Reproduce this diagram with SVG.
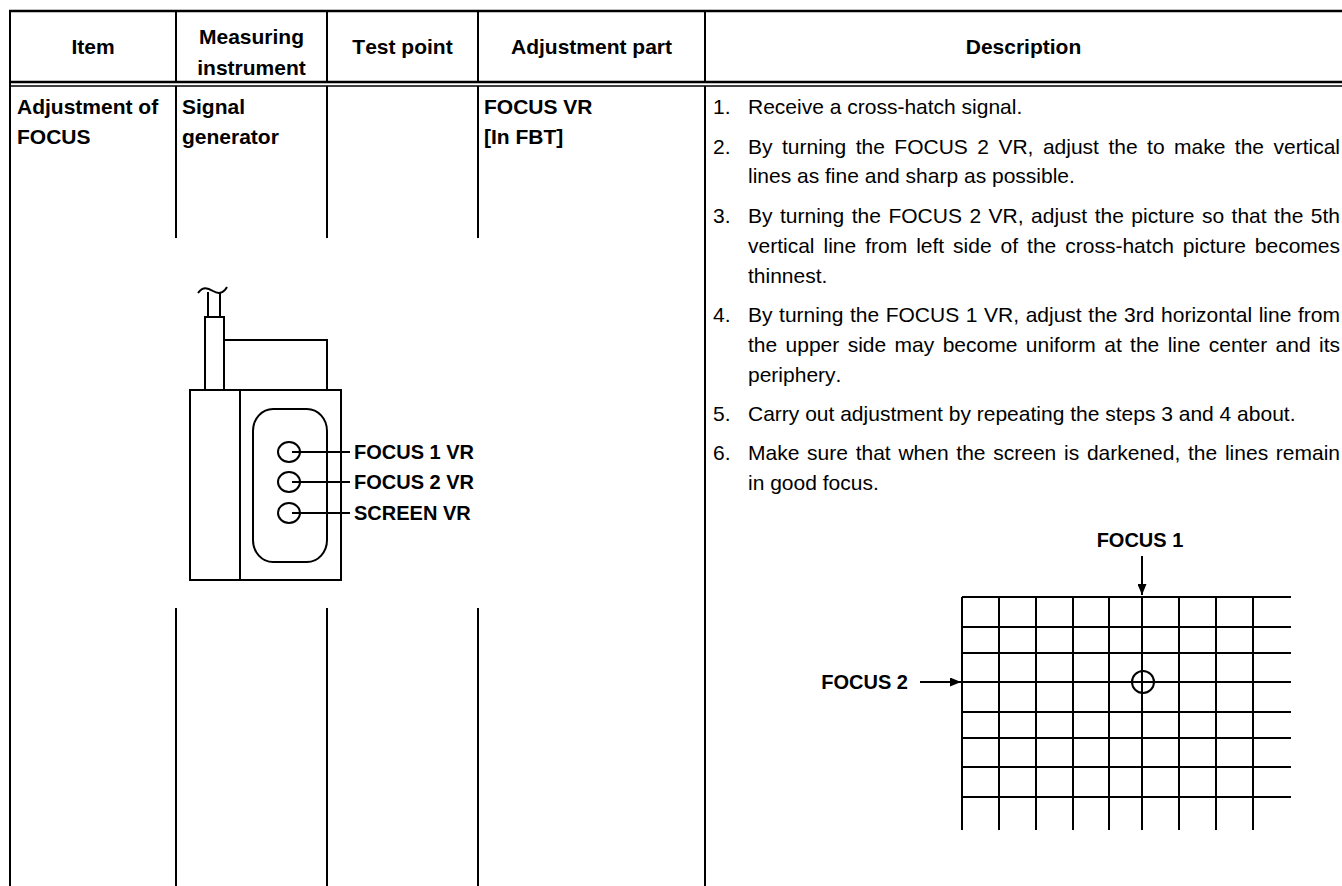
<svg xmlns="http://www.w3.org/2000/svg" width="1342" height="886" viewBox="0 0 1342 886">
<style>
.ln{stroke:#000;stroke-width:2;fill:none}
.h{font-family:"Liberation Sans",Arial,sans-serif;font-weight:bold;font-size:21px;fill:#000;font-kerning:none}
.hc{text-anchor:middle}
.t{font-family:"Liberation Sans",Arial,sans-serif;font-size:21px;fill:#000;font-kerning:none}
.lb{font-family:"Liberation Sans",Arial,sans-serif;font-weight:bold;font-size:20px;fill:#000;font-kerning:none}
</style>
<defs>
<marker id="ah" viewBox="0 0 11 9" refX="11" refY="4.5" markerWidth="11" markerHeight="9" markerUnits="userSpaceOnUse" orient="auto">
<path d="M0,0 L11,4.5 L0,9 z" fill="#000"/>
</marker>
</defs>
<rect width="1342" height="886" fill="#fff"/>

<g id="table" class="ln">
<line x1="9" y1="11" x2="1342" y2="11" stroke-width="2.5"/>
<line x1="10" y1="10" x2="10" y2="886"/>
<line x1="176" y1="11" x2="176" y2="82"/>
<line x1="327" y1="11" x2="327" y2="82"/>
<line x1="478" y1="11" x2="478" y2="82"/>
<line x1="705" y1="11" x2="705" y2="82"/>
<line x1="9" y1="82" x2="1342" y2="82" stroke-width="2.5"/>
<line x1="9" y1="86" x2="1342" y2="86" stroke-width="1.5"/>
<line x1="176" y1="86" x2="176" y2="238"/>
<line x1="327" y1="86" x2="327" y2="238"/>
<line x1="478" y1="86" x2="478" y2="238"/>
<line x1="176" y1="608" x2="176" y2="886"/>
<line x1="327" y1="608" x2="327" y2="886"/>
<line x1="478" y1="608" x2="478" y2="886"/>
<line x1="705" y1="86" x2="705" y2="886"/>
</g>

<g id="header">
<text class="h hc" x="93" y="54">Item</text>
<text class="h hc" x="251.5" y="44">Measuring</text>
<text class="h hc" x="251.5" y="75">instrument</text>
<text class="h hc" x="402.5" y="54">Test point</text>
<text class="h hc" x="591.5" y="54">Adjustment part</text>
<text class="h hc" x="1023.5" y="54">Description</text>
</g>

<g id="item">
<text class="h" x="17" y="114">Adjustment of</text>
<text class="h" x="17" y="144">FOCUS</text>
</g>
<g id="instrument">
<text class="h" x="182" y="114">Signal</text>
<text class="h" x="182" y="144">generator</text>
</g>
<g id="adjustment-part">
<text class="h" x="484" y="114">FOCUS VR</text>
<text class="h" x="484" y="144">[In FBT]</text>
</g>

<g id="description">
<text class="t" x="713" y="113.5">1.</text>
<text class="t" x="748" y="113.5">Receive a cross-hatch signal.</text>
<text class="t" x="713" y="153.5">2.</text>
<text class="t" x="748" y="153.5" word-spacing="3.63">By turning the FOCUS 2 VR, adjust the to make the vertical</text>
<text class="t" x="748" y="183">lines as fine and sharp as possible.</text>
<text class="t" x="713" y="222.5">3.</text>
<text class="t" x="748" y="222.5" word-spacing="1.67">By turning the FOCUS 2 VR, adjust the picture so that the 5th</text>
<text class="t" x="748" y="253" word-spacing="3.14">vertical line from left side of the cross-hatch picture becomes</text>
<text class="t" x="748" y="283">thinnest.</text>
<text class="t" x="713" y="322">4.</text>
<text class="t" x="748" y="322" word-spacing="0.76">By turning the FOCUS 1 VR, adjust the 3rd horizontal line from</text>
<text class="t" x="748" y="352" word-spacing="2.56">the upper side may become uniform at the line center and its</text>
<text class="t" x="748" y="382">periphery.</text>
<text class="t" x="713" y="421">5.</text>
<text class="t" x="748" y="421">Carry out adjustment by repeating the steps 3 and 4 about.</text>
<text class="t" x="713" y="460">6.</text>
<text class="t" x="748" y="460" word-spacing="1.89">Make sure that when the screen is darkened, the lines remain</text>
<text class="t" x="748" y="490">in good focus.</text>
</g>

<g id="fbt" class="ln">
<path d="M198,293 C203,286 208,288 213,291 S223,294 227,287"/>
<line x1="208" y1="292" x2="208" y2="317"/>
<line x1="220" y1="292" x2="220" y2="317"/>
<rect x="205" y="317" width="19" height="73"/>
<path d="M224,390 V340 H327 V390"/>
<rect x="190" y="390" width="151" height="190"/>
<line x1="240" y1="390" x2="240" y2="580"/>
<rect x="253" y="409" width="74" height="153" rx="20" ry="22"/>
<ellipse cx="289" cy="452" rx="11" ry="10"/>
<ellipse cx="289" cy="482" rx="11" ry="10"/>
<ellipse cx="289" cy="513" rx="11" ry="10"/>
</g>
<g id="fbt-labels">
<text class="lb" x="354" y="459">FOCUS 1 VR</text>
<text class="lb" x="354" y="489">FOCUS 2 VR</text>
<text class="lb" x="354" y="520">SCREEN VR</text>
</g>

<g id="crosshatch" class="ln">
<line x1="962" y1="597" x2="1291" y2="597"/>
<line x1="962" y1="627" x2="1291" y2="627"/>
<line x1="962" y1="653" x2="1291" y2="653"/>
<line x1="962" y1="682" x2="1291" y2="682"/>
<line x1="962" y1="712" x2="1291" y2="712"/>
<line x1="962" y1="738" x2="1291" y2="738"/>
<line x1="962" y1="767" x2="1291" y2="767"/>
<line x1="962" y1="797" x2="1291" y2="797"/>
<line x1="962" y1="597" x2="962" y2="830"/>
<line x1="999" y1="597" x2="999" y2="830"/>
<line x1="1036" y1="597" x2="1036" y2="830"/>
<line x1="1073" y1="597" x2="1073" y2="830"/>
<line x1="1109" y1="597" x2="1109" y2="830"/>
<line x1="1142" y1="597" x2="1142" y2="830"/>
<line x1="1179" y1="597" x2="1179" y2="830"/>
<line x1="1216" y1="597" x2="1216" y2="830"/>
<line x1="1253" y1="597" x2="1253" y2="830"/>
<circle cx="1143" cy="682" r="11"/>
</g>
<g id="crosshatch-labels">
<text class="lb hc" x="1140" y="547">FOCUS 1</text>
<text class="lb" x="908" y="689" text-anchor="end">FOCUS 2</text>
</g>

<g id="connectors" class="ln">
<line x1="292" y1="452" x2="350" y2="452"/>
<line x1="292" y1="482" x2="350" y2="482"/>
<line x1="292" y1="513" x2="350" y2="513"/>
<line x1="1142" y1="556" x2="1142" y2="595" marker-end="url(#ah)"/>
<line x1="920" y1="682" x2="961" y2="682" marker-end="url(#ah)"/>
</g>
</svg>
